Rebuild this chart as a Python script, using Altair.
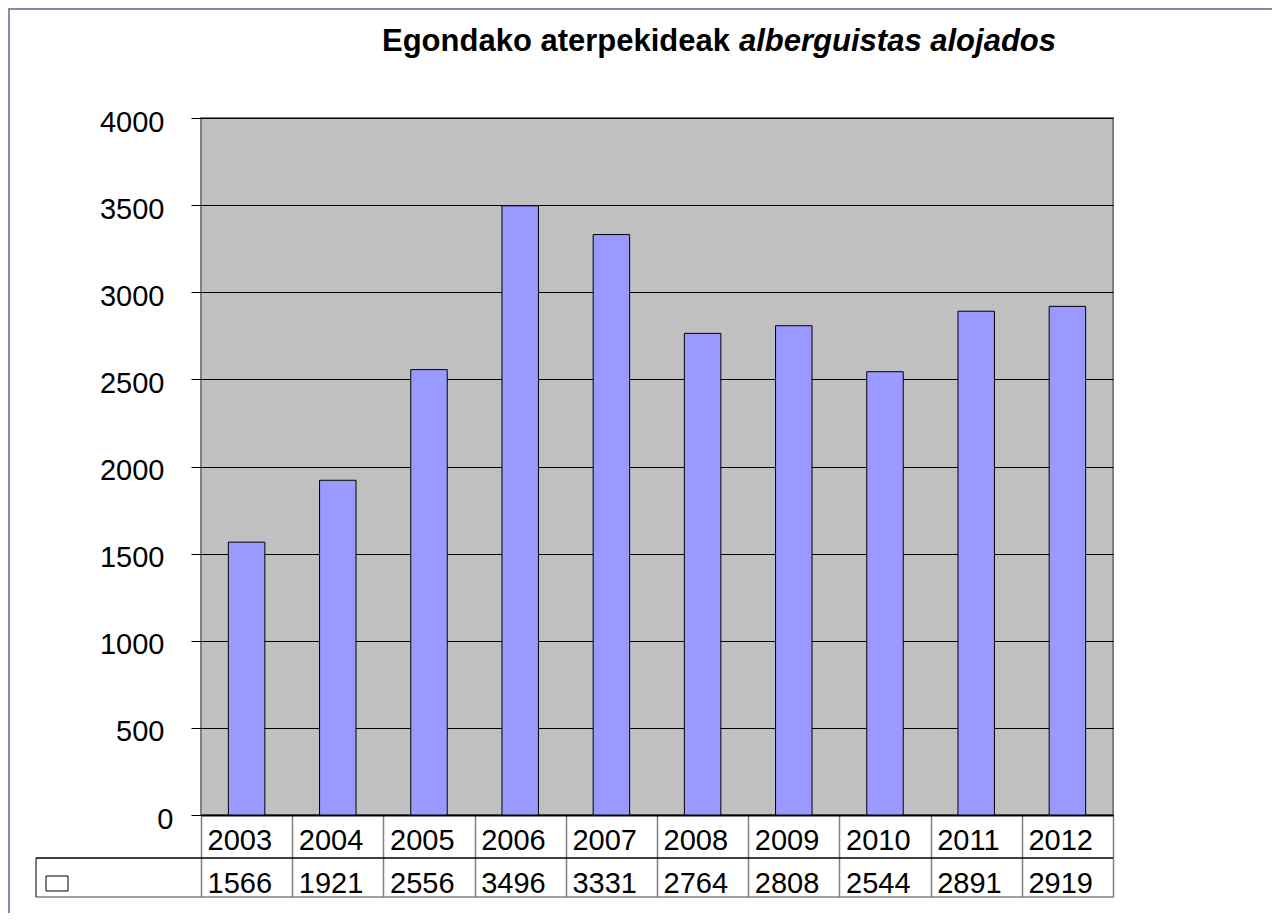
import altair as alt
import pandas as pd

# ---- data ----
years = ["2003", "2004", "2005", "2006", "2007", "2008", "2009", "2010", "2011", "2012"]
values = [1566, 1921, 2556, 3496, 3331, 2764, 2808, 2544, 2891, 2919]
y_ticks = [0, 500, 1000, 1500, 2000, 2500, 3000, 3500, 4000]
title_basque = "Egondako aterpekideak"
title_spanish = "alberguistas alojados"

df = pd.DataFrame({"year": years, "value": values})
one = pd.DataFrame({"k": [0]})

W, H = 912, 697
FONT = "Liberation Sans"
NUM_SIZE = 29

x_enc = alt.X(
    "year:N",
    sort=years,
    scale=alt.Scale(paddingInner=0, paddingOuter=0),
    axis=alt.Axis(
        title=None, labels=False, grid=False,
        domain=True, domainColor="black", domainWidth=2,
        ticks=True, tickBand="extent", tickSize=82,
        tickColor="#808080", tickWidth=1.5,
    ),
)

bars = alt.Chart(df).mark_bar(
    width=alt.RelativeBandSize(0.4), color="#9999FF",
    stroke="black", strokeWidth=1,
).encode(
    x=x_enc,
    y=alt.Y(
        "value:Q",
        scale=alt.Scale(domain=[0, 4000], nice=False),
        axis=alt.Axis(
            title=None, values=y_ticks, format="d",
            grid=True, gridColor="black", gridWidth=1,
            domain=False, tickColor="black", tickSize=10, tickWidth=1,
            labelFontSize=NUM_SIZE, labelFont=FONT, labelColor="black",
            labelPadding=alt.condition("datum.value == 0", alt.value(18), alt.value(27)),
            labelOffset=4,
        ),
    ),
)

year_text = alt.Chart(df).mark_text(
    align="left", baseline="alphabetic", dx=-39, fontSize=NUM_SIZE, font=FONT, color="black"
).encode(
    x=alt.X("year:N", sort=years),
    y=alt.value(732),
    text="year:N",
)

value_text = alt.Chart(df).mark_text(
    align="left", baseline="alphabetic", dx=-39, fontSize=NUM_SIZE, font=FONT, color="black"
).encode(
    x=alt.X("year:N", sort=years),
    y=alt.value(775),
    text=alt.Text("value:Q", format="d"),
)

# table lines
row_line = alt.Chart(one).mark_rule(color="black", strokeWidth=1.5).encode(
    x=alt.value(-165), x2=alt.value(W), y=alt.value(740)
)
bottom_line = alt.Chart(one).mark_rule(color="#808080", strokeWidth=1.5).encode(
    x=alt.value(-165), x2=alt.value(W), y=alt.value(779)
)
left_line = alt.Chart(one).mark_rule(color="black", strokeWidth=1).encode(
    x=alt.value(-165), y=alt.value(740), y2=alt.value(779)
)
legend_key = alt.Chart(one).mark_rect(fill="white", stroke="black", strokeWidth=1).encode(
    x=alt.value(-155), x2=alt.value(-133), y=alt.value(758), y2=alt.value(773)
)

# panel border (left / top)
panel_left = alt.Chart(one).mark_rule(color="#7f8ea3", strokeWidth=2).encode(
    x=alt.value(-192), y=alt.value(-110), y2=alt.value(H + 98)
)
panel_top = alt.Chart(one).mark_rule(color="#7f8ea3", strokeWidth=2).encode(
    x=alt.value(-193), x2=alt.value(W + 159), y=alt.value(-109)
)

title_a = alt.Chart(one).mark_text(
    align="right", baseline="alphabetic", fontSize=31, font=FONT,
    fontWeight="bold", color="black"
).encode(x=alt.value(529), y=alt.value(-67), text=alt.value(title_basque))

title_b = alt.Chart(one).mark_text(
    align="left", baseline="alphabetic", fontSize=31, font=FONT,
    fontWeight="bold", fontStyle="italic", color="black"
).encode(x=alt.value(538), y=alt.value(-67), text=alt.value(title_spanish))

chart = alt.layer(
    bars, year_text, value_text, row_line, bottom_line, left_line, legend_key,
    panel_left, panel_top, title_a, title_b,
).properties(
    width=W, height=H,
    autosize=alt.AutoSizeParams(type="none"),
    padding={"left": 193, "top": 110, "right": 159, "bottom": 98},
    background="white",
).configure_view(
    fill="#C0C0C0", stroke="#808080", strokeWidth=2
)

chart.save("out.html", embed_options={"renderer": "svg", "actions": False})
